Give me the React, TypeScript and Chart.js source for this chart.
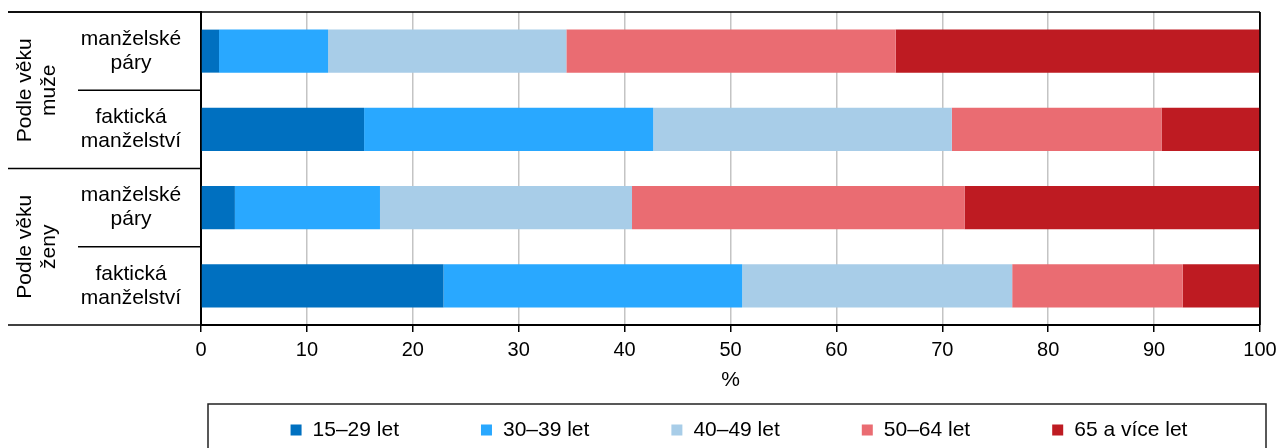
import React, { useEffect, useRef } from "react";
import { Chart, registerables } from "chart.js";

Chart.register(...registerables);

// ---------- data ----------
const groupLabels: string[][] = [
  ["Podle věku", "muže"],
  ["Podle věku", "ženy"],
];
const categoryLabels: string[][] = [
  ["manželské", "páry"],
  ["faktická", "manželství"],
  ["manželské", "páry"],
  ["faktická", "manželství"],
];
const seriesNames = ["15–29 let", "30–39 let", "40–49 let", "50–64 let", "65 a více let"];
const age15to29 = [1.7, 15.4, 3.2, 22.9];
const age30to39 = [10.3, 27.3, 13.7, 28.2];
const age40to49 = [22.5, 28.2, 23.8, 25.5];
const age50to64 = [31.1, 19.8, 31.4, 16.1];
const age65plus = [34.4, 9.3, 27.9, 7.3];
const xMin = 0;
const xMax = 100;
const xStep = 10;
const xTitle = "%";

const seriesColors = ["#0070C0", "#29A8FF", "#A8CDE8", "#EA6C72", "#BE1B22"];

const FONT = "'Liberation Sans', Arial, sans-serif";

const framePlugin = {
  id: "framePlugin",
  afterDraw(chart: any) {
    const { ctx, chartArea } = chart;
    const yScale = chart.scales.y;
    const n = categoryLabels.length;
    const band = (chartArea.bottom - chartArea.top) / n;
    ctx.save();
    // top border & right border
    ctx.strokeStyle = "#000";
    ctx.lineWidth = 1.5;
    ctx.beginPath();
    ctx.moveTo(8, chartArea.top);
    ctx.lineTo(chartArea.right, chartArea.top);
    ctx.moveTo(chartArea.right, chartArea.top);
    ctx.lineTo(chartArea.right, chartArea.bottom);
    ctx.stroke();
    // separators in label area
    for (let i = 0; i <= n; i++) {
      const y = i === n ? yScale.getPixelForValue(n - 1) + band / 2 : yScale.getPixelForValue(i) - band / 2;
      const full = i % 2 === 0;
      ctx.beginPath();
      ctx.moveTo(full ? 8 : 78, y);
      ctx.lineTo(chartArea.left, y);
      ctx.stroke();
    }
    // category labels
    ctx.fillStyle = "#000";
    ctx.font = `21px ${FONT}`;
    ctx.textAlign = "center";
    ctx.textBaseline = "middle";
    const lh = 24;
    categoryLabels.forEach((lines, i) => {
      const cy = yScale.getPixelForValue(i);
      lines.forEach((t, k) => {
        ctx.fillText(t, 131, cy + (k - (lines.length - 1) / 2) * lh);
      });
    });
    // group labels (rotated)
    groupLabels.forEach((lines, g) => {
      const cy = (yScale.getPixelForValue(g * 2) + yScale.getPixelForValue(g * 2 + 1)) / 2;
      ctx.save();
      ctx.translate(37, cy);
      ctx.rotate(-Math.PI / 2);
      lines.forEach((t, k) => {
        ctx.fillText(t, 0, (k - (lines.length - 1) / 2) * lh);
      });
      ctx.restore();
    });
    // legend box
    ctx.lineWidth = 1.5;
    ctx.strokeStyle = "#222";
    ctx.strokeRect(208, 404, 1058, 60);
    ctx.font = `21px ${FONT}`;
    ctx.textAlign = "left";
    const box = 11;
    const gapText = 11;
    const gapItem = 82;
    const items = chart.data.datasets.map((d: any) => ({
      label: d.label,
      color: d.backgroundColor,
      w: box + gapText + ctx.measureText(d.label).width,
    }));
    const total = items.reduce((a: number, it: any) => a + it.w, 0) + gapItem * (items.length - 1);
    let x = 739 - total / 2;
    const ly = 430;
    items.forEach((it: any) => {
      ctx.fillStyle = it.color;
      ctx.fillRect(x, ly - box / 2, box, box);
      ctx.fillStyle = "#000";
      ctx.fillText(it.label, x + box + gapText, ly);
      x += it.w + gapItem;
    });
    ctx.restore();
  },
};

export default function App() {
  const ref = useRef<HTMLCanvasElement | null>(null);
  useEffect(() => {
    if (!ref.current) return;
    const values = [age15to29, age30to39, age40to49, age50to64, age65plus];
    const chart = new Chart(ref.current, {
      type: "bar",
      data: {
        labels: categoryLabels.map((l) => l.join(" ")),
        datasets: seriesNames.map((name, i) => ({
          label: name,
          data: values[i],
          backgroundColor: seriesColors[i],
          borderWidth: 0,
          categoryPercentage: 1,
          barPercentage: 0.55,
        })),
      },
      options: {
        indexAxis: "y",
        responsive: false,
        animation: false,
        devicePixelRatio: 1,
        layout: { padding: { top: 12, right: 18, left: 0, bottom: 0 } },
        plugins: { legend: { display: false }, tooltip: { enabled: false } },
        scales: {
          x: {
            stacked: true,
            min: xMin,
            max: xMax,
            ticks: { stepSize: xStep, color: "#000", font: { family: FONT, size: 20 }, padding: 6 },
            grid: {
              color: (c: any) => (c.tick && c.tick.value === xMax ? "#000" : "#c4c4c4"),
              lineWidth: 1.5,
              tickColor: "#000",
              tickLength: 7,
            },
            border: { display: true, color: "#000", width: 2 },
            title: {
              display: true,
              text: xTitle,
              color: "#000",
              font: { family: FONT, size: 21 },
              padding: { top: 0, bottom: 55 },
            },
            afterFit: (s: any) => {
              s.height = 123;
              s.paddingLeft = 0;
              s.paddingRight = 0;
            },
          },
          y: {
            stacked: true,
            ticks: { display: false },
            grid: { display: false },
            border: { display: true, color: "#000", width: 2 },
            afterFit: (s: any) => {
              s.width = 201;
            },
          },
        },
      },
      plugins: [framePlugin],
    });
    return () => chart.destroy();
  }, []);
  return (
    <div style={{ position: "fixed", left: 0, top: 0, width: 1278, height: 448, background: "#fff" }}>
      <canvas ref={ref} width={1278} height={448} />
    </div>
  );
}
